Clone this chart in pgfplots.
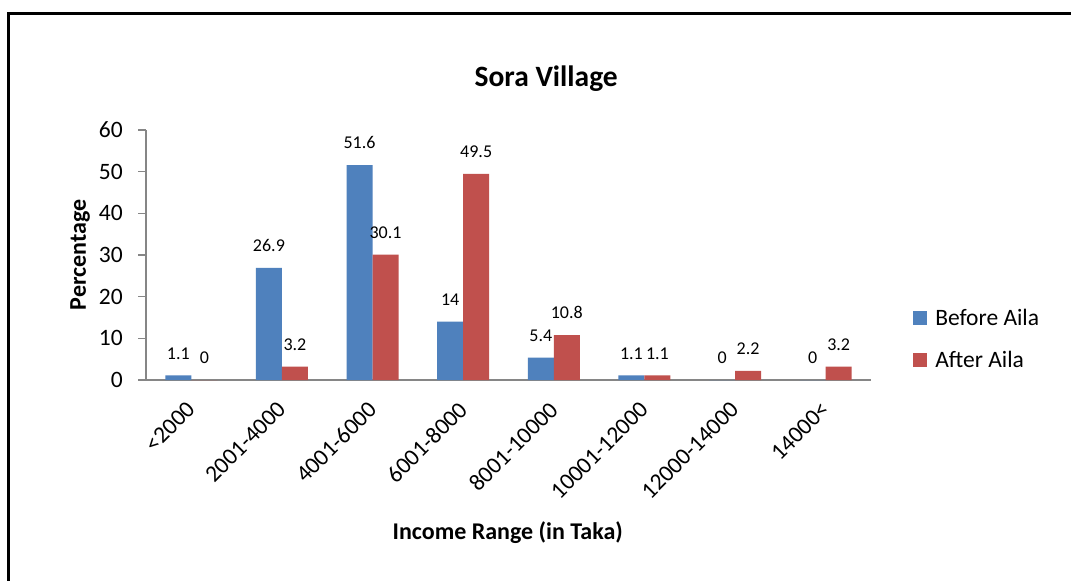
\documentclass[border=0pt]{standalone}
\usepackage{fontspec}
\setmainfont{Carlito}
\usepackage{pgfplots}
\pgfplotsset{compat=1.18}
\definecolor{exblue}{HTML}{4F81BD}
\definecolor{exred}{HTML}{C0504D}
\definecolor{axgray}{HTML}{868686}
\newcommand{\fs}[1]{\fontsize{#1}{#1}\selectfont}
\begin{document}
\begin{tikzpicture}
\path[use as bounding box, fill=white] (0,0) rectangle (1071pt,-581pt);
\draw[line width=2.7pt, black] (8.5pt,-581pt) -- (8.5pt,-13.5pt) -- (1071pt,-13.5pt);
\begin{axis}[
  at={(146pt,-380pt)}, anchor=south west,
  scale only axis, width=725pt, height=250pt,
  xmin=-0.5, xmax=7.5, ymin=0, ymax=60,
  ybar=0pt, bar width=26pt,
  axis x line*=bottom, axis y line*=left,
  axis line style={axgray, line width=1.2pt, -},
  xtick={0,...,7},
  xticklabels={<2000,2001-4000,4001-6000,6001-8000,8001-10000,10001-12000,12000-14000,14000<},
  x tick style={draw=none},
  ytick={0,10,...,60},
  y tick style={axgray, line width=1.2pt},
  tick align=outside, major tick length=8pt,
  /pgf/number format/assume math mode=true,
  ticklabel style={font=\fs{23.5}},
  yticklabel style={anchor=east, inner sep=0pt, xshift=-15pt},
  xticklabel style={xshift=-6pt, yshift=-12pt, rotate=45, anchor=north east, inner sep=0pt},
  nodes near coords,
  nodes near coords style={font=\fs{18}, anchor=south, inner sep=0pt, yshift=16pt, black},
  title={Sora Village},
  title style={font=\bfseries\fs{29.5}, at={(axis description cs:0.552,1.15)}, anchor=base},
  xlabel={Income Range (in Taka)},
  xlabel style={font=\bfseries\fs{24}, at={(axis description cs:0.499,-0.636)}, anchor=base},
  ylabel={Percentage},
  ylabel style={font=\bfseries\fs{24}, at={(axis description cs:-0.0828,0.5)}, anchor=base},
  legend style={at={(axis description cs:1.058,0.164)}, anchor=west, draw=none, fill=none,
    inner sep=0pt, font=\fs{23.5}, row sep=20pt, cells={anchor=west},
    /tikz/every odd column/.append style={column sep=6pt}},
  legend image code/.code={\fill[#1,draw=none] (0pt,-7pt) rectangle (14pt,7pt);},
]
\addplot[fill=exblue, draw=none] coordinates {(0,1.1)(1,26.9)(2,51.6)(3,14)(4,5.4)(5,1.1)(6,0)(7,0)};
\addplot[fill=exred, draw=none] coordinates {(0,0)(1,3.2)(2,30.1)(3,49.5)(4,10.8)(5,1.1)(6,2.2)(7,3.2)};
\legend{Before Aila, After Aila}
\end{axis}
\end{tikzpicture}
\end{document}
